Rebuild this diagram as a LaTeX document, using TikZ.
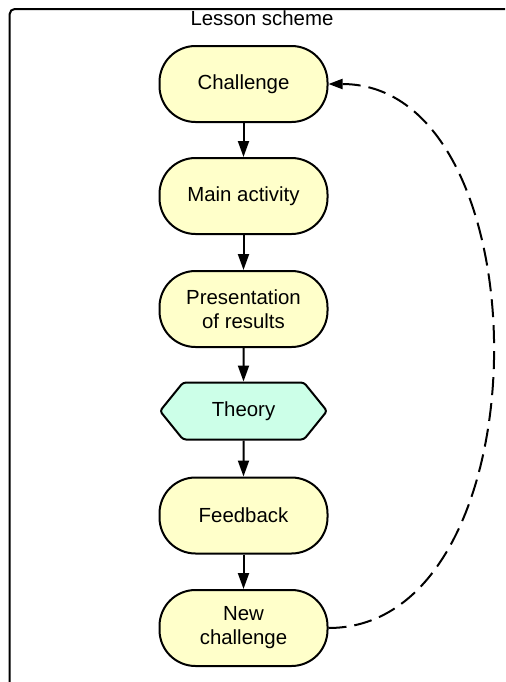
\documentclass[tikz,border=0pt]{standalone}
\usepackage{fontspec}
\setmainfont{Liberation Sans}
\usetikzlibrary{arrows.meta,shapes.symbols}
\definecolor{stepyellow}{RGB}{255,255,202}
\definecolor{theorymint}{RGB}{204,255,232}

\begin{document}
\begin{tikzpicture}[
  font=\fontsize{10.2pt}{12pt}\selectfont,
  stage/.style={draw=black, line width=1pt, fill=stepyellow, align=center,
                rounded corners=18pt, minimum width=84pt, minimum height=38pt,
                inner sep=2pt},
  theory/.style={draw=black, line width=1pt, fill=theorymint, align=center,
                 shape=signal, signal to=west and east, signal pointer angle=102,
                 rounded corners=1.5pt,
                 minimum width=83.5pt, minimum height=28.5pt, inner sep=2pt},
  flow/.style={-{Triangle[length=8pt, width=5.5pt]}, line width=1pt},
  back/.style={-{Triangle[length=7pt, width=5pt]}, line width=1pt,
               dash pattern=on 9pt off 4pt},
]
\useasboundingbox (0pt, 0pt) rectangle (252.5pt, -341pt);
\clip (0pt, 0pt) rectangle (252.5pt, -341pt);

% ---- frame and title ----
\draw[line width=1pt, rounded corners=2.5pt] (4.85pt, -360pt) |- (270pt, -4.5pt);
\node[anchor=base] (title) at (131pt, -12.85pt) {Lesson scheme};

% ---- lesson steps ----
\node[stage] (chal) at (121.75pt, -42pt) {Challenge};
\node[stage] (main) at (121.75pt, -98pt) {Main activity};
\node[stage] (pres) at (121.75pt, -154.5pt) {Presentation\\of results};
\node[theory] (theo) at (121.75pt, -205.5pt) {Theory};
\node[stage] (feed) at (121.75pt, -257.75pt) {Feedback};
\node[stage] (newc) at (121.75pt, -314pt) {New\\challenge};

\draw[flow] (chal) -- (main);
\draw[flow] (main) -- (pres);
\draw[flow] (pres) -- (theo);
\draw[flow] (theo) -- (feed);
\draw[flow] (feed) -- (newc);

% ---- loop back ----
\draw[back] (newc.east) .. controls (273.5pt, -314pt) and (273.5pt, -42pt) .. (chal.east);
\end{tikzpicture}
\end{document}
